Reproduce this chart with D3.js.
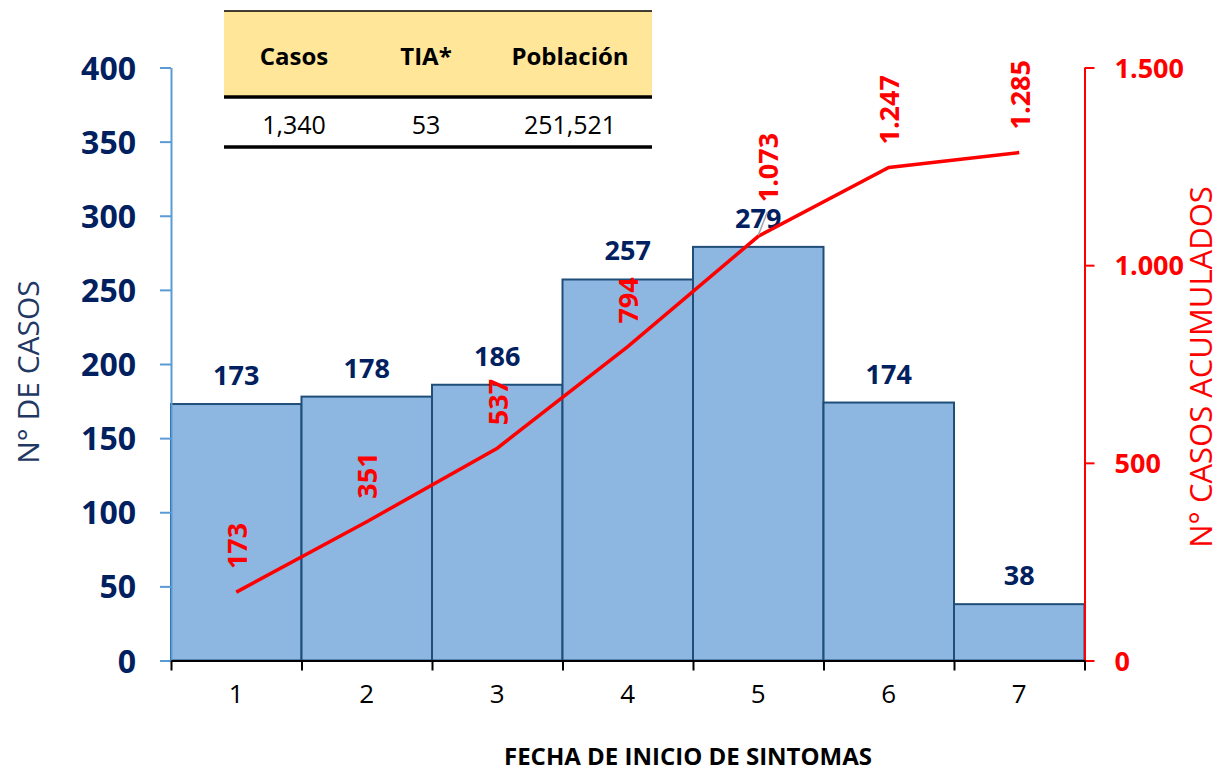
<!DOCTYPE html>
<html>
<head>
<meta charset="utf-8">
<script src="https://cdn.jsdelivr.net/npm/d3@7"></script>
<style>
  body { margin: 0; background: #fff; }
  svg { display: block; font-family: "Open Sans", "Noto Sans", sans-serif; }
</style>
</head>
<body>
<script>
// Datos del gráfico
const dias = ["1", "2", "3", "4", "5", "6", "7"];
const casos = [173, 178, 186, 257, 279, 174, 38];
const acumulados = [173, 351, 537, 794, 1073, 1247, 1285];
const ticksCasos = [0, 50, 100, 150, 200, 250, 300, 350, 400];
const ticksAcum = [0, 500, 1000, 1500];
const tablaCabecera = ["Casos", "TIA*", "Población"];
const tablaValores = ["1,340", "53", "251,521"];

const width = 1221;
const height = 773;

const navy = "#002060";
const rojo = "#ff0000";

// formato con punto como separador de miles
const fmtES = d3.formatLocale({decimal: ",", thousands: ".", grouping: [3], currency: ["", ""]}).format(",d");

const svg = d3.select("body").append("svg")
  .attr("width", width)
  .attr("height", height);

// escalas
const x = d3.scaleBand().domain(dias).range([171, 1084.5]).padding(0);
const xEdge = d3.scaleLinear().domain([0, dias.length]).range([171, 1084.5]);
const yL = d3.scaleLinear().domain([0, 400]).range([660.5, 67.5]);
const yR = d3.scaleLinear().domain([0, 1500]).range([660.5, 67.5]);

// barras
svg.append("g")
  .selectAll("rect")
  .data(casos)
  .join("rect")
    .attr("x", (d, i) => x(dias[i]))
    .attr("y", d => yL(d))
    .attr("width", x.bandwidth())
    .attr("height", d => yL(0) - yL(d))
    .attr("fill", "#8db6e1")
    .attr("stroke", "#1f4e79")
    .attr("stroke-width", 2);

// etiquetas de barras
svg.append("g")
  .selectAll("text")
  .data(casos)
  .join("text")
    .attr("x", (d, i) => x(dias[i]) + x.bandwidth() / 2)
    .attr("y", d => yL(d) - 19)
    .attr("text-anchor", "middle")
    .attr("font-size", 27)
    .attr("font-weight", "bold")
    .attr("fill", navy)
    .text(d => d);

// eje izquierdo
const axL = svg.append("g")
  .attr("transform", "translate(171,0)")
  .call(d3.axisLeft(yL).tickValues(ticksCasos).tickSize(11).tickSizeOuter(0).tickPadding(24));
axL.select(".domain").attr("stroke", "#5b9bd5").attr("stroke-width", 2);
axL.selectAll(".tick line").attr("stroke", "#5b9bd5").attr("stroke-width", 2);
axL.selectAll(".tick text")
  .attr("font-size", 32).attr("font-weight", "bold").attr("fill", navy)
  .attr("font-family", "Open Sans").attr("dy", "0.36em");

// eje derecho
const axR = svg.append("g")
  .attr("transform", "translate(1084.5,0)")
  .call(d3.axisRight(yR).tickValues(ticksAcum).tickSize(10).tickSizeOuter(0).tickPadding(20).tickFormat(fmtES));
axR.select(".domain").attr("stroke", rojo).attr("stroke-width", 2);
axR.selectAll(".tick line").attr("stroke", rojo).attr("stroke-width", 2);
axR.selectAll(".tick text")
  .attr("font-size", 27).attr("font-weight", "bold").attr("fill", rojo)
  .attr("font-family", "Open Sans").attr("dy", "0.36em");

// eje x: línea y marcas entre barras
const axX = svg.append("g")
  .attr("transform", "translate(0,660.5)")
  .call(d3.axisBottom(xEdge).ticks(dias.length).tickSize(10).tickSizeOuter(0).tickFormat(""));
axX.select(".domain").attr("stroke", "#000").attr("stroke-width", 2);
axX.selectAll(".tick line").attr("stroke", "#000").attr("stroke-width", 2);

const axXlab = svg.append("g")
  .attr("transform", "translate(0,660.5)")
  .call(d3.axisBottom(x).tickSize(0).tickPadding(24));
axXlab.select(".domain").remove();
axXlab.selectAll(".tick text")
  .attr("font-size", 26).attr("fill", "#000").attr("font-family", "Open Sans");

// línea de acumulados
const linea = d3.line()
  .x((d, i) => x(dias[i]) + x.bandwidth() / 2)
  .y(d => yR(d));

svg.append("path")
  .datum(acumulados)
  .attr("d", linea)
  .attr("fill", "none")
  .attr("stroke", rojo)
  .attr("stroke-width", 3.5);

// línea guía gris de la etiqueta 1.073
svg.append("line")
  .attr("x1", x(dias[4]) + x.bandwidth() / 2)
  .attr("y1", yR(acumulados[4]) - 1)
  .attr("x2", x(dias[4]) + x.bandwidth() / 2 + 9)
  .attr("y2", yR(acumulados[4]) - 24)
  .attr("stroke", "#a6a6a6")
  .attr("stroke-width", 1.5);

// etiquetas de la línea (verticales)
svg.append("g")
  .selectAll("text")
  .data(acumulados)
  .join("text")
    .attr("transform", (d, i) => {
      const px = x(dias[i]) + x.bandwidth() / 2 + (i === 4 ? 10 : 1);
      const py = yR(d) - (i === 4 ? 34 : 23);
      return `translate(${px},${py}) rotate(-90)`;
    })
    .attr("text-anchor", "start")
    .attr("dy", "0.36em")
    .attr("font-size", 27)
    .attr("font-weight", "bold")
    .attr("fill", rojo)
    .text(d => fmtES(d));

// títulos de ejes
svg.append("text")
  .attr("transform", "translate(28,372) rotate(-90)")
  .attr("text-anchor", "middle")
  .attr("dy", "0.36em")
  .attr("font-size", 30)
  .attr("fill", "#1f3864")
  .text("N° DE CASOS");

svg.append("text")
  .attr("transform", "translate(1201,367) rotate(-90)")
  .attr("text-anchor", "middle")
  .attr("dy", "0.36em")
  .attr("font-size", 31)
  .attr("fill", rojo)
  .text("N° CASOS ACUMULADOS");

svg.append("text")
  .attr("x", 688)
  .attr("y", 765)
  .attr("text-anchor", "middle")
  .attr("font-size", 24)
  .attr("font-weight", "bold")
  .attr("fill", "#000")
  .text("FECHA DE INICIO DE SINTOMAS");

// tabla resumen
const tabla = svg.append("g");
// centros de columnas (no equiespaciados)
const colCentro = [294, 426, 570];

tabla.append("rect")
  .attr("x", 224).attr("y", 11)
  .attr("width", 428).attr("height", 86)
  .attr("fill", "#ffe699");
tabla.append("line")
  .attr("x1", 224).attr("x2", 652).attr("y1", 11).attr("y2", 11)
  .attr("stroke", "#000").attr("stroke-width", 1.5);
tabla.append("line")
  .attr("x1", 224).attr("x2", 652).attr("y1", 97).attr("y2", 97)
  .attr("stroke", "#000").attr("stroke-width", 3.5);
tabla.append("line")
  .attr("x1", 224).attr("x2", 652).attr("y1", 147).attr("y2", 147)
  .attr("stroke", "#000").attr("stroke-width", 3.5);

tabla.selectAll(".cab")
  .data(tablaCabecera)
  .join("text")
    .attr("class", "cab")
    .attr("x", (d, i) => colCentro[i])
    .attr("y", 65)
    .attr("text-anchor", "middle")
    .attr("font-size", 24)
    .attr("font-weight", "bold")
    .attr("fill", "#000")
    .text(d => d);

tabla.selectAll(".val")
  .data(tablaValores)
  .join("text")
    .attr("class", "val")
    .attr("x", (d, i) => colCentro[i])
    .attr("y", 134)
    .attr("text-anchor", "middle")
    .attr("font-size", 25)
    .attr("fill", "#000")
    .text(d => d);
</script>
</body>
</html>
